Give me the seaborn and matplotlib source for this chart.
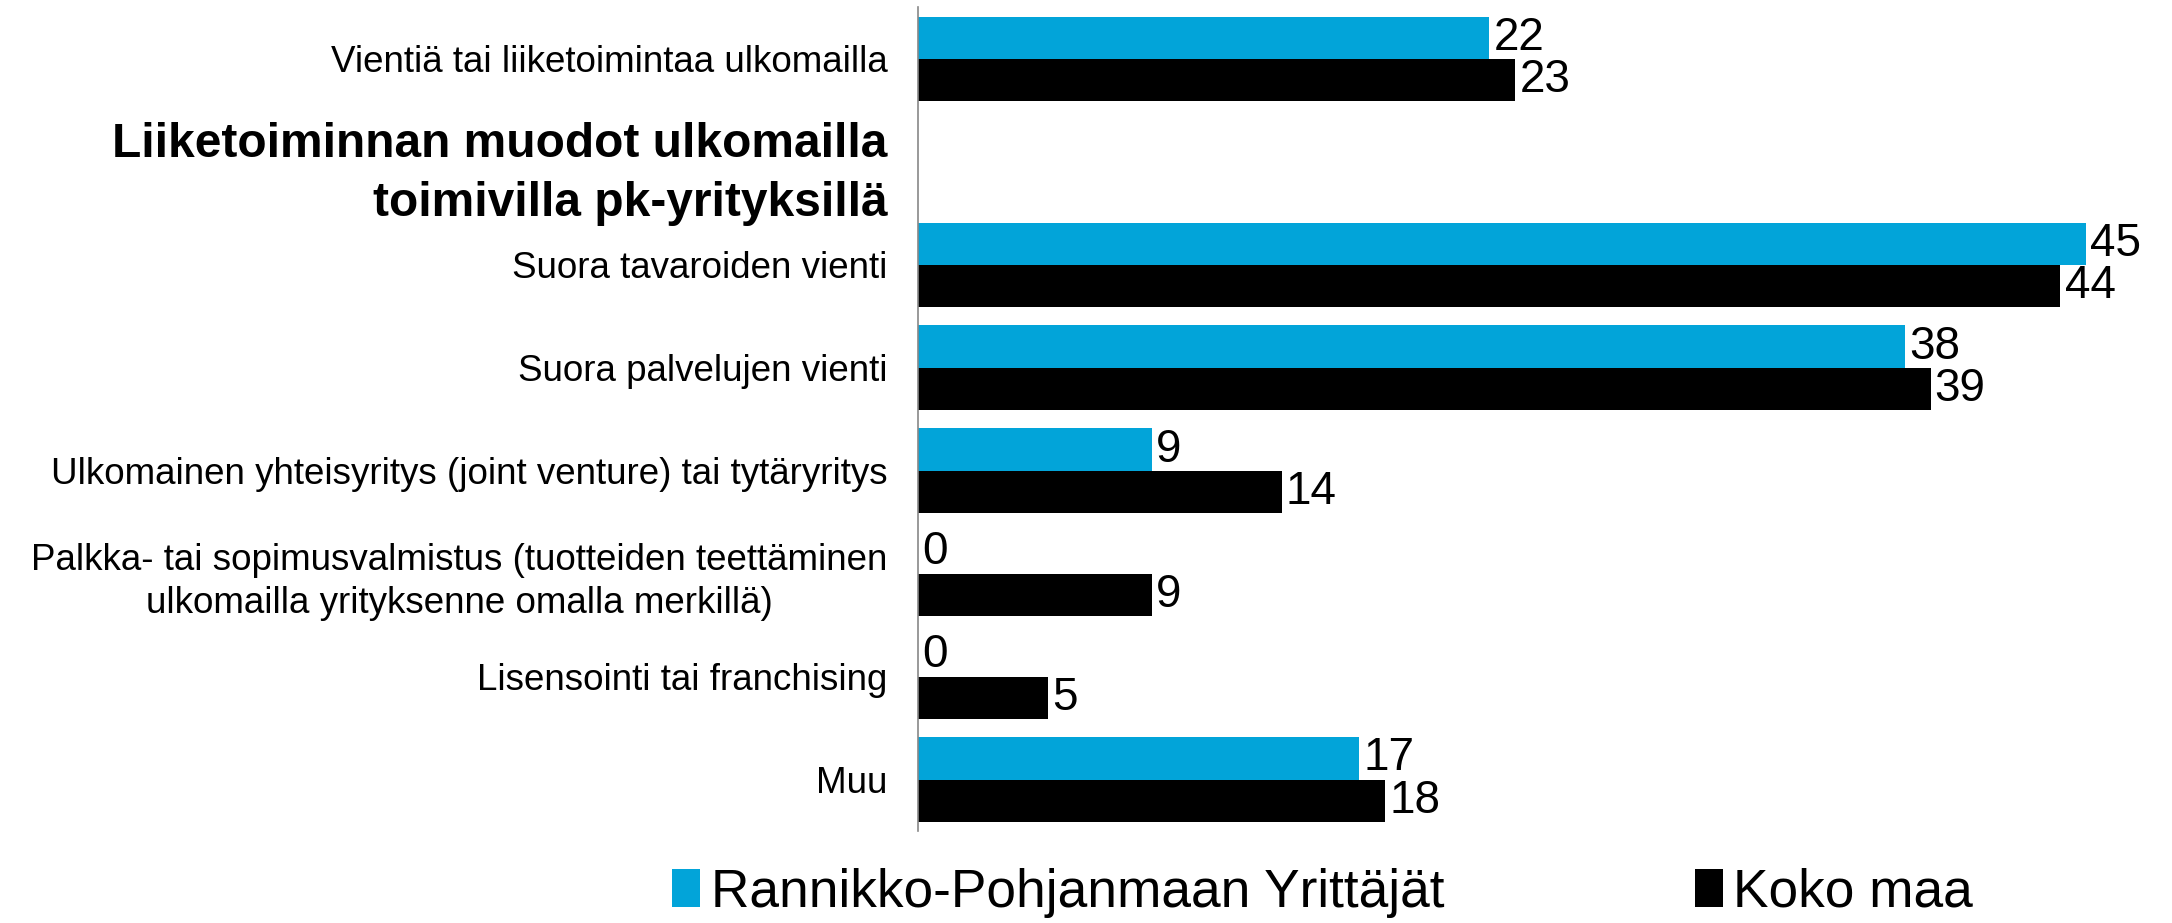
import numpy as np
import pandas as pd
import matplotlib
matplotlib.use("Agg")
import matplotlib.pyplot as plt
import seaborn as sns
from matplotlib.patches import Patch

categories = [
    "Vientiä tai liiketoimintaa ulkomailla",
    "Liiketoiminnan muodot ulkomailla\ntoimivilla pk-yrityksillä",
    "Suora tavaroiden vienti",
    "Suora palvelujen vienti",
    "Ulkomainen yhteisyritys (joint venture) tai tytäryritys",
    "Palkka- tai sopimusvalmistus (tuotteiden teettäminen\nulkomailla yrityksenne omalla merkillä)",
    "Lisensointi tai franchising",
    "Muu",
]
series_names = ["Rannikko-Pohjanmaan Yrittäjät", "Koko maa"]
values_region = [22, np.nan, 45, 38, 9, 0, 0, 17]
values_country = [23, np.nan, 44, 39, 14, 9, 5, 18]
heading_category = categories[1]

colors = {"Rannikko-Pohjanmaan Yrittäjät": "#02A4D9", "Koko maa": "#000000"}

sns.set_theme(style="white")
plt.rcParams["font.family"] = ["Liberation Sans", "DejaVu Sans"]
plt.rcParams["text.color"] = "black"
plt.rcParams["ytick.labelcolor"] = "black"

df = pd.DataFrame({
    "kategoria": categories * 2,
    "sarja": [series_names[0]] * len(categories) + [series_names[1]] * len(categories),
    "arvo": values_region + values_country,
})

fig = plt.figure(figsize=(21.72, 9.23), dpi=100)
ax = fig.add_axes([0.4227, 0.0997, 0.5773, 0.8923])

sns.barplot(data=df, y="kategoria", x="arvo", hue="sarja", order=categories,
            hue_order=series_names, palette=colors, orient="h", width=0.82,
            saturation=1, linewidth=0, ax=ax, legend=False)

for cont in ax.containers:
    labels = ["" if np.isnan(v) else f"{v:.0f}" for v in cont.datavalues]
    ax.bar_label(cont, labels=labels, padding=3, fontsize=33, color="black")

ax.set_xlim(0, 48.3)
ax.set_xlabel("")
ax.set_ylabel("")
ax.set_xticks([])
for s in ["top", "right", "bottom"]:
    ax.spines[s].set_visible(False)
ax.spines["left"].set_color("#888888")
ax.spines["left"].set_linewidth(1.2)
ax.tick_params(axis="y", length=0, pad=22, labelsize=26.5, labelcolor="black")
for lab in ax.get_yticklabels():
    lab.set_horizontalalignment("right")
    lab.set_multialignment("center")
    lab.set_linespacing(1.3)
    if lab.get_text() == heading_category:
        lab.set_fontweight("bold")
        lab.set_fontsize(34.5)
        lab.set_multialignment("right")
        lab.set_linespacing(1.4)

handles = [Patch(facecolor=colors[n], edgecolor="none") for n in series_names]
fig.legend(handles, series_names, loc="center", bbox_to_anchor=(0.609, 0.033),
           ncol=2, frameon=False, fontsize=38.3, handlelength=0.53, handleheight=0.7,
           handletextpad=0.2, columnspacing=4.7, borderaxespad=0, labelcolor="black")

fig.savefig("out.png", dpi=100)
